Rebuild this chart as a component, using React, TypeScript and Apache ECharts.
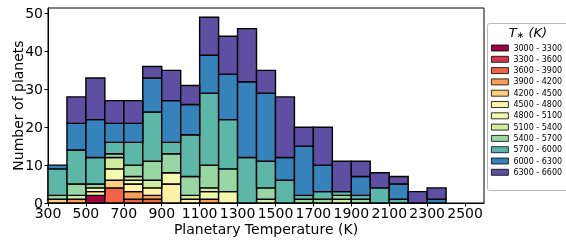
import React, { useEffect, useRef } from 'react';
import * as echarts from 'echarts';

const binStarts = [300, 400, 500, 600, 700, 800, 900, 1000, 1100, 1200, 1300, 1400, 1500, 1600, 1700, 1800, 1900, 2000, 2100, 2200, 2300];
const binWidth = 100;

const starRanges = [
  '3000 - 3300', '3300 - 3600', '3600 - 3900', '3900 - 4200', '4200 - 4500', '4500 - 4800',
  '4800 - 5100', '5100 - 5400', '5400 - 5700', '5700 - 6000', '6000 - 6300', '6300 - 6600',
];
const starColors = [
  '#9e0142', '#d0384e', '#ee6445', '#fb9c59', '#fece7c', '#fff1a7',
  '#f4faad', '#d1ec9c', '#98d6a4', '#5db7a9', '#3683bb', '#5e4fa2',
];

// counts per stellar-temperature range, one value per planetary-temperature bin
const c3000 = [0, 0, 2, 0, 0, 0, 0, 0, 0, 0, 0, 0, 0, 0, 0, 0, 0, 0, 0, 0, 0];
const c3300 = [0, 0, 0, 0, 0, 0, 0, 0, 0, 0, 0, 0, 0, 0, 0, 0, 0, 0, 0, 0, 0];
const c3600 = [0, 0, 0, 4, 1, 1, 0, 0, 0, 0, 0, 0, 0, 0, 0, 0, 0, 0, 0, 0, 0];
const c3900 = [0, 1, 0, 0, 2, 1, 0, 0, 1, 0, 0, 0, 0, 0, 0, 0, 0, 0, 0, 0, 0];
const c4200 = [1, 0, 0, 2, 0, 0, 0, 0, 0, 0, 0, 0, 0, 0, 0, 0, 0, 0, 0, 0, 0];
const c4500 = [0, 0, 1, 0, 2, 2, 5, 1, 0, 0, 0, 0, 0, 0, 0, 0, 0, 0, 0, 0, 0];
const c4800 = [0, 0, 1, 3, 1, 0, 3, 0, 2, 3, 0, 0, 0, 0, 0, 0, 0, 0, 0, 0, 0];
const c5100 = [0, 1, 0, 3, 1, 2, 0, 1, 1, 0, 0, 1, 0, 0, 0, 1, 0, 0, 0, 0, 0];
const c5400 = [1, 3, 1, 1, 3, 5, 5, 5, 6, 6, 0, 3, 0, 1, 1, 1, 1, 0, 0, 0, 0];
const c5700 = [7, 9, 7, 3, 6, 13, 3, 11, 19, 13, 12, 7, 6, 1, 2, 1, 1, 4, 1, 0, 0];
const c6000 = [1, 7, 10, 5, 5, 9, 11, 8, 10, 12, 20, 18, 6, 13, 7, 0, 5, 0, 4, 0, 1];
const c6300 = [0, 7, 11, 6, 6, 3, 8, 5, 10, 10, 14, 6, 16, 5, 10, 8, 4, 4, 2, 3, 3];
const counts = [c3000, c3300, c3600, c3900, c4200, c4500, c4800, c5100, c5400, c5700, c6000, c6300];

const xTickValues = [300, 500, 700, 900, 1100, 1300, 1500, 1700, 1900, 2100, 2300, 2500];
const yTickValues = [0, 10, 20, 30, 40, 50];

const FONT = 'DejaVu Sans';

export default function App() {
  const ref = useRef<HTMLDivElement>(null);
  useEffect(() => {
    const chart = echarts.init(ref.current!, null, { renderer: 'svg' });
    const bottoms = binStarts.map(() => 0);
    const series = starRanges.map((name, si) => {
      const data: number[][] = [];
      binStarts.forEach((x, k) => {
        const v = counts[si][k];
        if (v > 0) data.push([x, x + binWidth, bottoms[k], bottoms[k] + v]);
        bottoms[k] += v;
      });
      return {
        type: 'custom',
        name,
        data,
        itemStyle: { color: starColors[si] },
        encode: { x: [0, 1], y: [2, 3] },
        renderItem: (params: any, api: any) => {
          const p0 = api.coord([api.value(0), api.value(3)]);
          const p1 = api.coord([api.value(1), api.value(2)]);
          return {
            type: 'rect',
            shape: { x: p0[0], y: p0[1], width: p1[0] - p0[0], height: p1[1] - p0[1] },
            style: { fill: starColors[si], stroke: '#000', lineWidth: 1.4 },
          };
        },
      };
    });

    chart.setOption({
      animation: false,
      grid: {
        left: 48, right: 82, top: 8, bottom: 41, containLabel: false, outerBoundsMode: 'none',
        show: true, borderColor: '#000', borderWidth: 1, backgroundColor: 'transparent',
      },
      xAxis: {
        type: 'value', min: 300, max: 2600,
        splitLine: { show: false },
        axisLine: { lineStyle: { color: '#000', width: 1 } },
        axisTick: { show: true, length: 3.5, lineStyle: { color: '#000' }, customValues: xTickValues },
        axisLabel: {
          customValues: xTickValues, color: '#000', fontSize: 14, fontFamily: FONT, margin: 3,
          formatter: (v: number) => String(v),
        },
        name: 'Planetary Temperature (K)', nameLocation: 'middle', nameGap: 19, nameMoveOverlap: false,
        nameTextStyle: { fontSize: 14, fontFamily: FONT, color: '#000' },
      },
      yAxis: {
        type: 'value', min: 0, max: 51.45,
        splitLine: { show: false },
        axisLine: { show: true, lineStyle: { color: '#000', width: 1 } },
        axisTick: { show: true, length: 3.5, lineStyle: { color: '#000' }, customValues: yTickValues },
        axisLabel: {
          customValues: yTickValues, color: '#000', fontSize: 14, fontFamily: FONT, margin: 5,
          formatter: (v: number) => String(v),
        },
        name: 'Number of planets', nameLocation: 'middle', nameGap: 23, nameMoveOverlap: false,
        nameTextStyle: { fontSize: 14, fontFamily: FONT, color: '#000' },
      },
      legend: {
        orient: 'vertical', left: 491, top: 44, padding: 0,
        itemWidth: 17, itemHeight: 6, itemGap: 3.3, icon: 'rect',
        selectedMode: false,
        itemStyle: { borderColor: '#000', borderWidth: 0.8 },
        textStyle: { fontSize: 8, lineHeight: 8, fontFamily: FONT, color: '#000' },
        data: starRanges,
      },
      graphic: [
        {
          type: 'rect', z: 0,
          shape: { x: 487.5, y: 23.5, width: 90, height: 167, r: 2 },
          style: { fill: '#fff', stroke: '#bbbbbb', lineWidth: 1 },
        },
        {
          type: 'text', z: 10, x: 528, y: 32,
          style: {
            text: '{i|T}{s|∗}{i| (K)}',
            align: 'center', verticalAlign: 'middle',
            rich: {
              i: { fontSize: 13, fontStyle: 'italic', fontFamily: FONT, fill: '#000', color: '#000' },
              s: { fontSize: 9, fontStyle: 'italic', fontFamily: FONT, fill: '#000', color: '#000', verticalAlign: 'bottom', padding: [6, 0, 0, 0] },
            },
          },
        },
      ],
      series,
    });
    return () => chart.dispose();
  }, []);
  return <div ref={ref} style={{ position: 'fixed', left: 0, top: 0, width: 566, height: 244 }} />;
}
